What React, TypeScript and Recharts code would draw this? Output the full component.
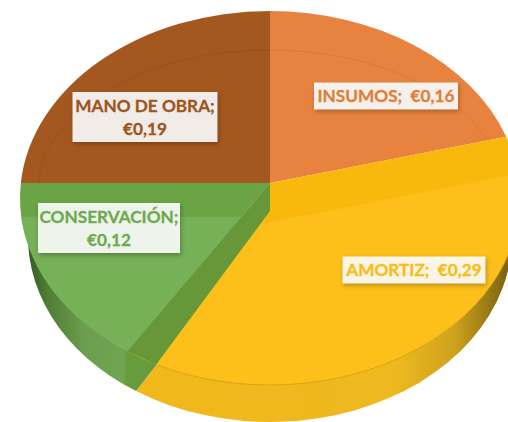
import React from "react";
import { PieChart, Pie } from "recharts";

const categories = ["INSUMOS", "AMORTIZ", "CONSERVACIÓN", "MANO DE OBRA"];
const costs = [0.16, 0.29, 0.12, 0.19];
const valueLabels = ["€0,16", "€0,29", "€0,12", "€0,19"];
const wrappedLabel = [false, false, true, true];

const topColors = ["#E8833F", "#F8B90C", "#6BA444", "#A4581F"];
const liftColors = ["", "#FDC01A", "#76B057", ""];
const textColors = ["#E07F3C", "#F9BD16", "#6FAA4E", "#9C5520"];
// label box centres relative to the pie apex
const labelOffsets = [
  [116, -87],
  [144, 87],
  [-161, 45],
  [-125, -66],
];
const labelBoxes = [
  [144, 27],
  [143, 27],
  [142, 50],
  [145, 50],
];

const tableData = categories.map((name, i) => ({ name, value: costs[i] }));

const RX = 250;
const RY = 187;
const TOP_DY = 15;
const LOW_RX = 242;
const LOW_RY = 185;
const LOW_DY = 54;

type Pt = { x: number; y: number };
type Ell = { c: Pt; rx: number; ry: number };

const dirOf = (t: number): Pt => {
  const r = (t * Math.PI) / 180;
  return { x: Math.sin(r) * RX * 0.97, y: -Math.cos(r) * RY };
};

const hit = (a: Pt, t: number, e: Ell): Pt => {
  const d = dirOf(t);
  const ax = (a.x - e.c.x) / e.rx;
  const ay = (a.y - e.c.y) / e.ry;
  const dx = d.x / e.rx;
  const dy = d.y / e.ry;
  const A = dx * dx + dy * dy;
  const B = 2 * (ax * dx + ay * dy);
  const C = ax * ax + ay * ay - 1;
  const s = (-B + Math.sqrt(B * B - 4 * A * C)) / (2 * A);
  return { x: a.x + d.x * s, y: a.y + d.y * s };
};

const arcTo = (p1: Pt, p2: Pt, e: Ell) => {
  const a1 = Math.atan2((p1.y - e.c.y) / e.ry, (p1.x - e.c.x) / e.rx);
  const a2 = Math.atan2((p2.y - e.c.y) / e.ry, (p2.x - e.c.x) / e.rx);
  let span = a2 - a1;
  while (span < 0) span += Math.PI * 2;
  return `A${e.rx} ${e.ry} 0 ${span > Math.PI ? 1 : 0} 1 ${p2.x} ${p2.y}`;
};

const sector = (a: Pt, ts: number, te: number, e: Ell) => {
  const p1 = hit(a, ts, e);
  const p2 = hit(a, te, e);
  return `M${a.x} ${a.y}L${p1.x} ${p1.y}${arcTo(p1, p2, e)}Z`;
};

const WallShape = (props: any) => {
  const { cx, cy, startAngle, endAngle, index } = props;
  const ts = 90 - startAngle;
  const te = 90 - endAngle;
  const low: Ell = { c: { x: cx, y: cy + LOW_DY }, rx: LOW_RX, ry: LOW_RY };
  const a = { x: cx, y: cy + 36 };
  if (index === 1) {
    return (
      <g>
        <defs>
          <linearGradient id="wallY" gradientUnits="userSpaceOnUse" x1="130" x2="510" y1="0" y2="0">
            <stop offset="0" stopColor="#F2B81A" />
            <stop offset="0.7" stopColor="#EDB91F" />
            <stop offset="0.85" stopColor="#D0A31E" />
            <stop offset="0.96" stopColor="#8F7212" />
            <stop offset="1" stopColor="#7A6010" />
          </linearGradient>
        </defs>
        <path d={sector(a, ts, te - 2.2, low)} fill="url(#wallY)" />
      </g>
    );
  }
  if (index === 2) {
    return (
      <g>
        <defs>
          <linearGradient id="wallG" gradientUnits="userSpaceOnUse" x1="26" x2="134" y1="0" y2="0">
            <stop offset="0" stopColor="#33561F" />
            <stop offset="0.2" stopColor="#4F7E35" />
            <stop offset="0.55" stopColor="#6B9F4F" />
            <stop offset="0.9" stopColor="#6FA450" />
            <stop offset="0.93" stopColor="#669C3B" />
            <stop offset="1" stopColor="#669C3B" />
          </linearGradient>
        </defs>
        <path d={sector(a, ts - 2.2, te, low)} fill="url(#wallG)" />
      </g>
    );
  }
  return <g />;
};

const TopShape = (props: any) => {
  const { cx, cy, startAngle, endAngle, index } = props;
  const ts = 90 - startAngle;
  const te = 90 - endAngle;
  const top: Ell = { c: { x: cx, y: cy + TOP_DY }, rx: RX, ry: RY };
  const apex = { x: cx, y: cy };
  const rim: Ell = { c: { x: cx, y: cy + 7 }, rx: 232, ry: 140 };
  if (index === 1) {
    const a2 = { x: cx, y: cy + 28 };
    const inner = te - 3.4;
    const d = dirOf(inner);
    const a3 = { x: a2.x + d.x * 0.08, y: a2.y + d.y * 0.08 };
    const p1 = hit(a3, ts, top);
    const p2 = hit(a2, inner, top);
    return (
      <g>
        <path d={sector(apex, ts, te, top)} fill={topColors[index]} />
        <path d={`M${a3.x} ${a3.y}L${p1.x} ${p1.y}${arcTo(p1, p2, top)}Z`} fill={liftColors[index]} />
        <path d={`M${p1.x} ${p1.y}${arcTo(p1, p2, top)}`} fill="none" stroke="#D8A51A" strokeWidth={1} />
      </g>
    );
  }
  if (index === 2) {
    const d = dirOf(ts);
    const a4 = { x: cx + d.x * 0.216, y: cy + d.y * 0.216 };
    const a2 = { x: cx, y: cy + 28 };
    const p = hit(apex, ts, top);
    const q = hit(a2, ts - 3.4, top);
    return (
      <g>
        <path d={sector(apex, ts, te, top)} fill={topColors[index]} />
        <path d={`M${cx} ${cy}L${p.x} ${p.y}L${q.x} ${q.y}L${a2.x} ${a2.y}Z`} fill="#66983A" />
        <path d={sector(a4, ts, te, top)} fill={liftColors[index]} />
      </g>
    );
  }
  const r1 = hit(apex, ts, rim);
  const r2 = hit(apex, te, rim);
  return (
    <g>
      <path d={sector(apex, ts, te, top)} fill={topColors[index]} />
      <path
        d={`M${r1.x} ${r1.y}${arcTo(r1, r2, rim)}`}
        fill="none"
        stroke="#000000"
        strokeOpacity={0.07}
        strokeWidth={1}
      />
    </g>
  );
};

const DataLabel = (props: any) => {
  const { cx, cy, index } = props;
  const [ox, oy] = labelOffsets[index];
  const [w, h] = labelBoxes[index];
  const x = cx + ox;
  const y = cy + oy;
  const name = categories[index];
  const val = valueLabels[index];
  const common = {
    textAnchor: "middle" as const,
    fontFamily: "Lato, sans-serif",
    fontWeight: 700,
    fontSize: 17.2,
    fill: textColors[index],
    stroke: textColors[index],
    strokeWidth: 0.3,
    style: { whiteSpace: "pre" as const },
  };
  return (
    <g>
      <rect
        x={x - w / 2}
        y={y - h / 2}
        width={w}
        height={h}
        fill="#FFFFFF"
        fillOpacity={0.9}
        style={{ filter: "drop-shadow(1px 2px 2px rgba(0,0,0,0.3))" }}
      />
      {wrappedLabel[index] ? (
        <>
          <text x={x} y={y - 5} {...common}>{`${name};`}</text>
          <text x={x} y={y + 18} {...common}>{val}</text>
        </>
      ) : (
        <text x={x} y={y + 6} {...common}>{`${name};  ${val}`}</text>
      )}
    </g>
  );
};

export default function App() {
  return (
    <div style={{ position: "absolute", left: 0, top: 0, width: 508, height: 422, overflow: "hidden", background: "#fff" }}>
      <PieChart width={508} height={422} margin={{ top: 0, right: 0, bottom: 0, left: 0 }}>
        <Pie
          data={tableData}
          dataKey="value"
          nameKey="name"
          cx={270}
          cy={183}
          outerRadius={RX}
          startAngle={90}
          endAngle={-270}
          paddingAngle={0}
          stroke="none"
          shape={WallShape}
          isAnimationActive={false}
          legendType="none"
        />
        <Pie
          data={tableData}
          dataKey="value"
          nameKey="name"
          cx={270}
          cy={183}
          outerRadius={RX}
          startAngle={90}
          endAngle={-270}
          paddingAngle={0}
          stroke="none"
          shape={TopShape}
          label={DataLabel}
          labelLine={false}
          isAnimationActive={false}
          legendType="none"
        />
      </PieChart>
    </div>
  );
}
